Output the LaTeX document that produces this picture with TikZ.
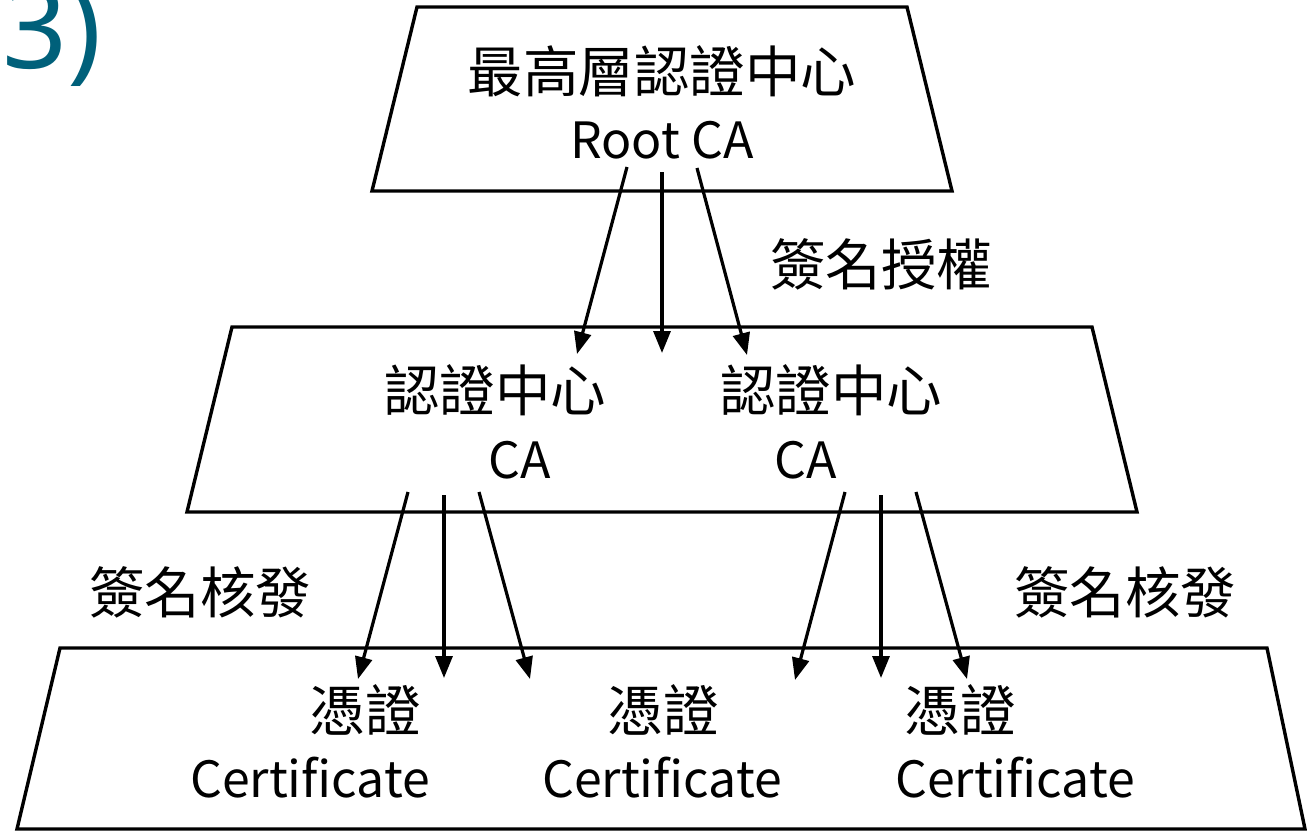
\documentclass[tikz,border=0pt]{standalone}
\usepackage{fontspec}
\setmainfont{Noto Sans CJK TC}
\newfontfamily\numfont{Noto Sans}
\usetikzlibrary{arrows.meta}
\definecolor{tealnum}{RGB}{0,96,122}
\begin{document}
\begin{tikzpicture}[x=1pt,y=-1pt,
  tier/.style={line width=3.4pt, line join=miter},
  lbl/.style={inner sep=0pt, font=\fontsize{55.5}{60}\selectfont},
  lat/.style={inner sep=0pt, font=\fontsize{50}{56}\selectfont},
  flow/.style={line width=3.2pt, -{Triangle[length=22pt,width=17pt]}}]
\useasboundingbox (0,0) rectangle (1307,833);
\clip (0,0) rectangle (1307,833);

% step number
\node[text=tealnum, font=\numfont\fontsize{114}{114}\selectfont,
      anchor=base west, inner sep=0pt] (num) at (2,68) {3)};

% three tiers of the hierarchy
\draw[tier] (417,7) -- (907,7) -- (952,191) -- (372,191) -- cycle;
\draw[tier] (232,327) -- (1092,327) -- (1137,512) -- (187,512) -- cycle;
\draw[tier] (60,648) -- (1267,648) -- (1305,829) -- (17,829) -- cycle;

% labels inside the tiers
\node[lbl] (rootzh) at (662,71) {最高層認證中心};
\node[lat] (rooten) at (662,140) {Root CA};
\node[lbl] (cazh1) at (495,390) {認證中心};
\node[lat] (caen1) at (520,460) {CA};
\node[lbl] (cazh2) at (831,390) {認證中心};
\node[lat] (caen2) at (806,460) {CA};
\node[lbl] (certzh1) at (365,710) {憑證};
\node[lat] (certen1) at (310,778) {Certificate};
\node[lbl] (certzh2) at (663,710) {憑證};
\node[lat] (certen2) at (662,778) {Certificate};
\node[lbl] (certzh3) at (960,710) {憑證};
\node[lat] (certen3) at (1015,778) {Certificate};

% relation labels
\node[lbl] (grant) at (881,264) {簽名授權};
\node[lbl] (issue1) at (200,592) {簽名核發};
\node[lbl] (issue2) at (1125,592) {簽名核發};

% arrow end points
\coordinate (r1) at (627,167); \coordinate (r2) at (662,172); \coordinate (r3) at (697,168);
\coordinate (c1) at (577,354); \coordinate (c2) at (662,353); \coordinate (c3) at (747,355);
\coordinate (a1) at (408,492); \coordinate (a2) at (444,495); \coordinate (a3) at (479,492);
\coordinate (p1) at (358,679); \coordinate (p2) at (444,678); \coordinate (p3) at (530,679);
\coordinate (b1) at (845,492); \coordinate (b2) at (881,495); \coordinate (b3) at (916,492);
\coordinate (q1) at (795,680); \coordinate (q2) at (881,678); \coordinate (q3) at (967,679);

% signing arrows
\foreach \s/\t in {r1/c1, r2/c2, r3/c3, a1/p1, a2/p2, a3/p3, b1/q1, b2/q2, b3/q3}
  \draw[flow] (\s) -- (\t);
\end{tikzpicture}
\end{document}
